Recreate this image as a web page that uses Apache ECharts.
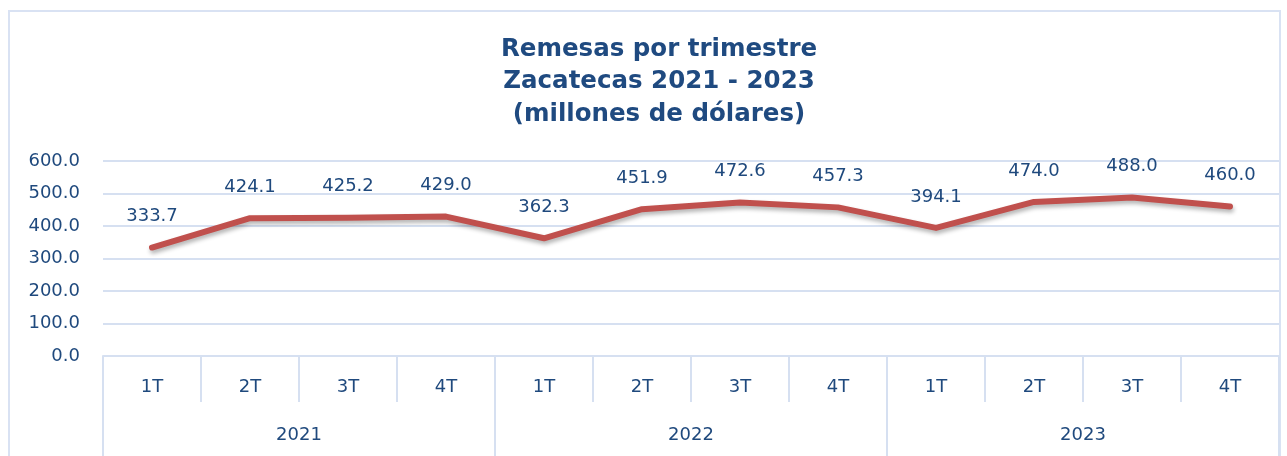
<!DOCTYPE html>
<html>
<head>
<meta charset="utf-8">
<script src="https://cdn.jsdelivr.net/npm/echarts@6/dist/echarts.min.js"></script>
<style>
  html, body { margin: 0; padding: 0; background: #fff; }
  #chart { width: 1287px; height: 456px; }
</style>
</head>
<body>
<div id="chart"></div>
<script>
var quarters = ['1T', '2T', '3T', '4T', '1T', '2T', '3T', '4T', '1T', '2T', '3T', '4T'];
var years = ['2021', '2022', '2023'];
var remesas = [333.7, 424.1, 425.2, 429.0, 362.3, 451.9, 472.6, 457.3, 394.1, 474.0, 488.0, 460.0];
var yTicks = { min: 0, max: 600, interval: 100 };

var textColor = '#1F497D';
var titleColor = '#1F4A80';
var lineColor = '#D6E0F1';
var fontName = 'DejaVu Sans';

var chart = echarts.init(document.getElementById('chart'));

var option = {
    animation: false,
    textStyle: { fontFamily: fontName },
    title: {
        text: 'Remesas por trimestre\nZacatecas 2021 - 2023\n(millones de dólares)',
        left: 654,
        textAlign: 'center',
        top: 28,
        textStyle: {
            color: titleColor,
            fontSize: 24.5,
            fontWeight: 'bold',
            lineHeight: 32.5,
            fontFamily: fontName
        }
    },
    graphic: [{
        type: 'rect',
        shape: { x: 9, y: 11, width: 1271, height: 470 },
        style: { fill: null, stroke: '#D9E2F3', lineWidth: 2 },
        silent: true
    }],
    grid: { left: 103, right: 8, top: 161, bottom: 100 },
    xAxis: [{
        type: 'category',
        data: quarters,
        position: 'bottom',
        boundaryGap: true,
        axisLine: { show: true, lineStyle: { color: lineColor, width: 2 } },
        axisTick: { show: true, interval: 0, length: 46, lineStyle: { color: lineColor, width: 2 } },
        axisLabel: { interval: 0, margin: 22, color: textColor, fontSize: 18, fontFamily: fontName }
    }, {
        type: 'category',
        data: years,
        position: 'bottom',
        boundaryGap: true,
        axisLine: { show: false },
        axisTick: { show: true, interval: 0, length: 100, lineStyle: { color: lineColor, width: 2 } },
        axisLabel: { interval: 0, margin: 70, color: textColor, fontSize: 18, fontFamily: fontName }
    }],
    yAxis: {
        type: 'value',
        min: yTicks.min,
        max: yTicks.max,
        interval: yTicks.interval,
        axisLine: { show: false },
        axisTick: { show: false },
        splitLine: { lineStyle: { color: lineColor, width: 2 } },
        axisLabel: {
            margin: 23,
            color: textColor,
            fontSize: 18,
            fontFamily: fontName,
            formatter: function (v) { return v.toFixed(1); }
        }
    },
    series: [{
        type: 'line',
        xAxisIndex: 0,
        data: remesas,
        symbol: 'circle',
        symbolSize: 0.1,
        itemStyle: { color: '#C0504D' },
        lineStyle: {
            color: '#C0504D',
            width: 6,
            cap: 'round',
            join: 'round',
            shadowColor: 'rgba(0,0,0,0.3)',
            shadowBlur: 4,
            shadowOffsetX: 1,
            shadowOffsetY: 3
        },
        label: {
            show: true,
            position: 'top',
            distance: 22,
            color: textColor,
            fontSize: 18,
            fontFamily: fontName,
            formatter: function (p) { return p.value.toFixed(1); }
        }
    }]
};

chart.setOption(option);
</script>
</body>
</html>
